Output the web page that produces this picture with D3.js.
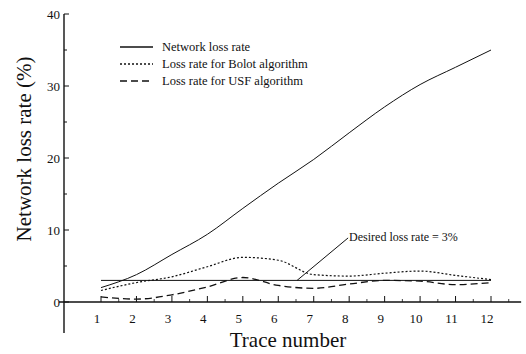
<!DOCTYPE html>
<html><head><meta charset="utf-8">
<script src="https://cdn.jsdelivr.net/npm/d3@7"></script>
<style>body{margin:0;background:#fff}svg{display:block}text{font-family:"Liberation Serif","Times New Roman",serif;fill:#111}</style>
</head><body><svg id="c" width="526" height="354"></svg>
<script>
const traces = [1,2,3,4,5,6,7,8,9,10,11,12];
const networkLoss = [2.0, 3.8, 6.6, 9.4, 13.0, 16.5, 19.8, 23.5, 27.1, 30.2, 32.6, 35.0];
const bolotLoss   = [1.6, 2.7, 3.5, 4.9, 6.2, 5.8, 3.8, 3.6, 4.0, 4.3, 3.7, 3.1];
const usfLoss     = [0.7, 0.4, 1.0, 2.1, 3.4, 2.3, 1.9, 2.5, 3.0, 2.9, 2.4, 2.7];
const desiredRate = 3;
const yTicks = [0, 10, 20, 30, 40];
const yMinorTicks = [5, 15, 25, 35];
const xMinorTicks = [1.5,2.5,3.5,4.5,5.5,6.5,7.5,8.5,9.5,10.5,11.5,12.5];
const legendLabels = ["Network loss rate", "Loss rate for Bolot algorithm", "Loss rate for USF algorithm"];
const annotationText = "Desired loss rate = 3%";

const svg = d3.select("#c");
const x = d3.scaleLinear().domain([1, 12]).range([101, 491]);
const y = d3.scaleLinear().domain([0, 40]).range([302, 14]);

const ink = "#111";
// axes
svg.append("line").attr("x1", 59).attr("x2", x(12.85)).attr("y1", y(0)).attr("y2", y(0)).attr("stroke", ink).attr("stroke-width", 1.4);
svg.append("line").attr("x1", 64).attr("x2", 64).attr("y1", y(40)).attr("y2", y(-4.3)).attr("stroke", ink).attr("stroke-width", 1.4);

// y ticks
yTicks.forEach(t => {
  svg.append("line").attr("x1", 64).attr("x2", 69).attr("y1", y(t)).attr("y2", y(t)).attr("stroke", ink).attr("stroke-width", 1);
  svg.append("text").attr("x", 60).attr("y", y(t)).attr("dy", "0.35em").attr("text-anchor", "end").attr("font-size", 13).text(t);
});
yMinorTicks.forEach(t => {
  svg.append("line").attr("x1", 64).attr("x2", 67).attr("y1", y(t)).attr("y2", y(t)).attr("stroke", ink).attr("stroke-width", 1);
});
// x ticks
traces.forEach(t => {
  svg.append("line").attr("x1", x(t)).attr("x2", x(t)).attr("y1", y(0)).attr("y2", y(0) - 6).attr("stroke", ink).attr("stroke-width", 1);
  svg.append("text").attr("x", x(t) - 4).attr("y", 318).attr("dy", "0.35em").attr("text-anchor", "middle").attr("font-size", 13).text(t);
});
xMinorTicks.forEach(t => {
  svg.append("line").attr("x1", x(t)).attr("x2", x(t)).attr("y1", y(0)).attr("y2", y(0) - 3).attr("stroke", ink).attr("stroke-width", 0.8);
});

// titles
svg.append("text").attr("x", 288).attr("y", 347).attr("text-anchor", "middle").attr("font-size", 21).text("Trace number");
svg.append("text").attr("transform", "translate(31,149) rotate(-90)").attr("text-anchor", "middle").attr("font-size", 21).text("Network loss rate (%)");

// lines
const line = d3.line().x((d, i) => x(traces[i])).y(d => y(d)).curve(d3.curveMonotoneX);
svg.append("path").datum(networkLoss).attr("d", line).attr("fill", "none").attr("stroke", ink).attr("stroke-width", 1);
svg.append("path").datum(bolotLoss).attr("d", line).attr("fill", "none").attr("stroke", ink).attr("stroke-width", 1.2).attr("stroke-dasharray", "2,2");
svg.append("path").datum(usfLoss).attr("d", line).attr("fill", "none").attr("stroke", ink).attr("stroke-width", 1.3).attr("stroke-dasharray", "7,4");
svg.append("line").attr("x1", x(1)).attr("x2", x(12)).attr("y1", y(desiredRate)).attr("y2", y(desiredRate)).attr("stroke", ink).attr("stroke-width", 1);

// annotation
svg.append("line").attr("x1", x(6.53)).attr("y1", y(desiredRate)).attr("x2", x(7.97)).attr("y2", y(8.9)).attr("stroke", ink).attr("stroke-width", 1);
svg.append("text").attr("x", x(7.97) + 1).attr("y", y(8.9) + 3).attr("font-size", 12).text(annotationText);

// legend
const dashes = [null, "2,2", "7,4"];
legendLabels.forEach((lab, i) => {
  const ly = 47 + i * 17;
  const l = svg.append("line").attr("x1", 120).attr("x2", 153).attr("y1", ly).attr("y2", ly).attr("stroke", ink).attr("stroke-width", i === 0 ? 1.4 : 1.3);
  if (dashes[i]) l.attr("stroke-dasharray", dashes[i]);
  svg.append("text").attr("x", 162).attr("y", ly).attr("dy", "0.35em").attr("font-size", 12.5).text(lab);
});
</script></body></html>
